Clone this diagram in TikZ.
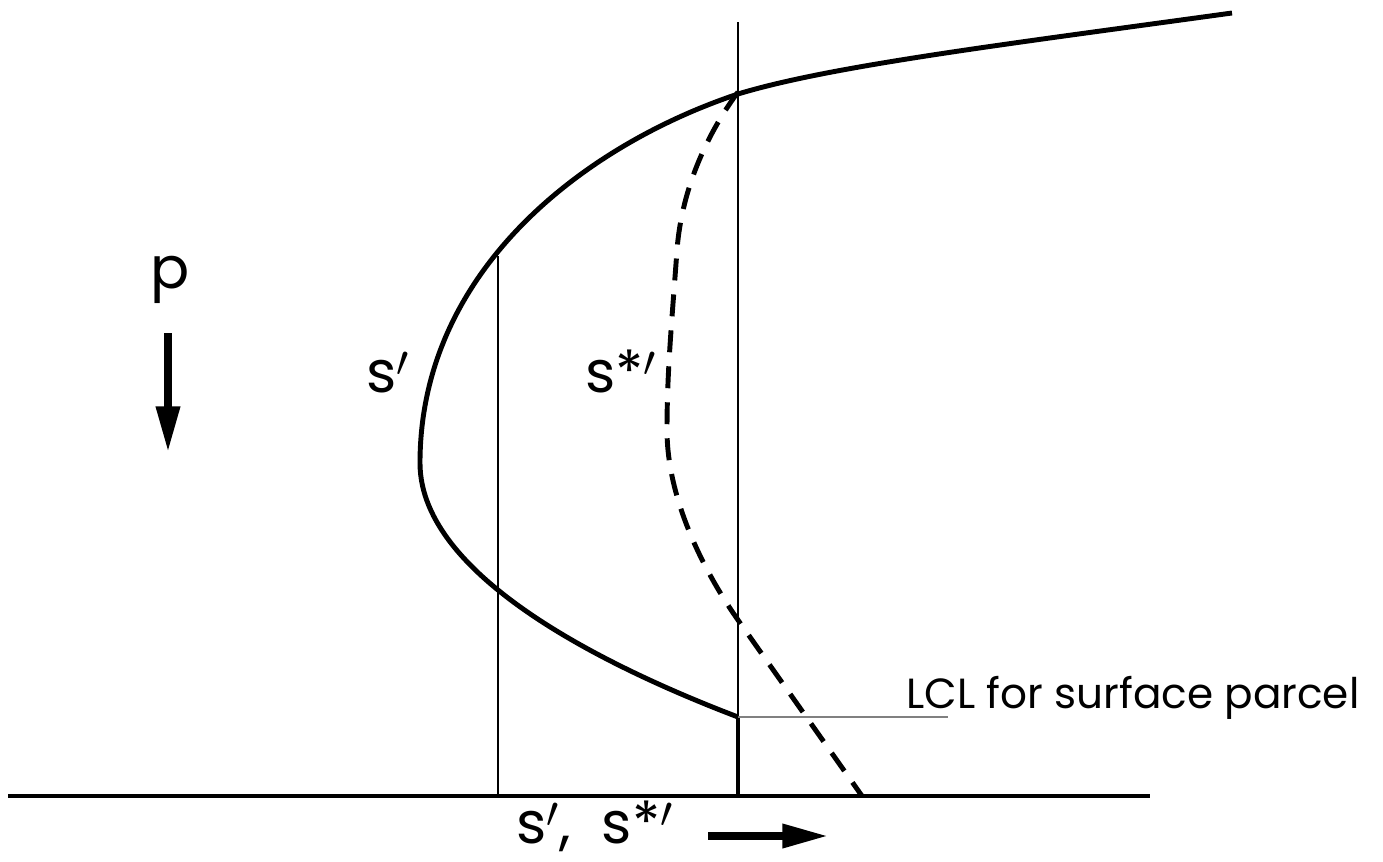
\documentclass[tikz,border=0pt]{standalone}
\usepackage{fontspec}
\setmainfont{Poppins}
\usetikzlibrary{arrows.meta}
\tikzset{
  curve/.style={line width=2.8pt, line join=round},
  dashcurve/.style={line width=2.8pt, dash pattern=on 12.5pt off 8pt},
  thin/.style={line width=1.1pt},
  ground/.style={line width=2.3pt},
  lbl/.style={inner sep=0pt, font=\fontsize{33}{36}\selectfont},
  small/.style={inner sep=0pt, font=\fontsize{24}{28}\selectfont},
  bigarrow/.style={line width=4.2pt, -{Triangle[length=26pt,width=13pt]}}
}
\begin{document}
\begin{tikzpicture}[x=0.02cm, y=-0.02cm]
\useasboundingbox (0,0) rectangle (1383,862);
% coordinates
\coordinate (vt) at (738,22);
\coordinate (vb) at (738,796);
\coordinate (lcl) at (738,717);
\coordinate (lclend) at (948,717);
\coordinate (wt) at (498,256);
\coordinate (wb) at (498,796);
\coordinate (gl) at (8,796);
\coordinate (gr) at (1150,796);
\coordinate (top) at (1232,13);
\coordinate (cross) at (738,94);
\coordinate (left) at (420,463);
\coordinate (dtop) at (738,92);
\coordinate (dmid) at (677,250);
\coordinate (dleft) at (667,430);
\coordinate (dcross) at (738,620);
\coordinate (dend) at (862,796);
% vertical thin lines
\draw[thin] (vt) -- (vb);
\draw[thin] (wt) -- (wb);
\draw[line width=2.8pt] (lcl) -- (vb);
\draw[line width=0.6pt, gray] (lcl) -- (lclend);
% ground
\draw[ground] (gl) -- (gr);
% s' curve
\draw[curve] (top) .. controls (1000,45) and (830,66) .. (cross)
  .. controls (585,145) and (420,270) .. (left)
  .. controls (420,580) and (620,672) .. (lcl);
% s*' curve
\draw[dashcurve] (dtop) .. controls (710,130) and (682,185) .. (dmid)
  .. controls (672,320) and (667,370) .. (dleft)
  .. controls (667,500) and (705,573) .. (dcross) -- (dend);
% labels
\node[lbl, anchor=base west] (ls) at (366,392) {s$'$};
\node[lbl, anchor=base west] (lss) at (585,392) {s*$'$};
\node[lbl, anchor=base] (lp) at (170,288) {p};
\node[small, anchor=base west] (llcl) at (906,708) {LCL for surface parcel};
\node[lbl, anchor=base west] (lbot) at (516,843) {s$'$,\ \ s*$'$};
% arrows
\coordinate (pa1) at (168,333);
\coordinate (pa2) at (168,452);
\draw[bigarrow] (pa1) -- (pa2);
\coordinate (sa1) at (708,836);
\coordinate (sa2) at (828,836);
\draw[bigarrow] (sa1) -- (sa2);
\end{tikzpicture}
\end{document}
